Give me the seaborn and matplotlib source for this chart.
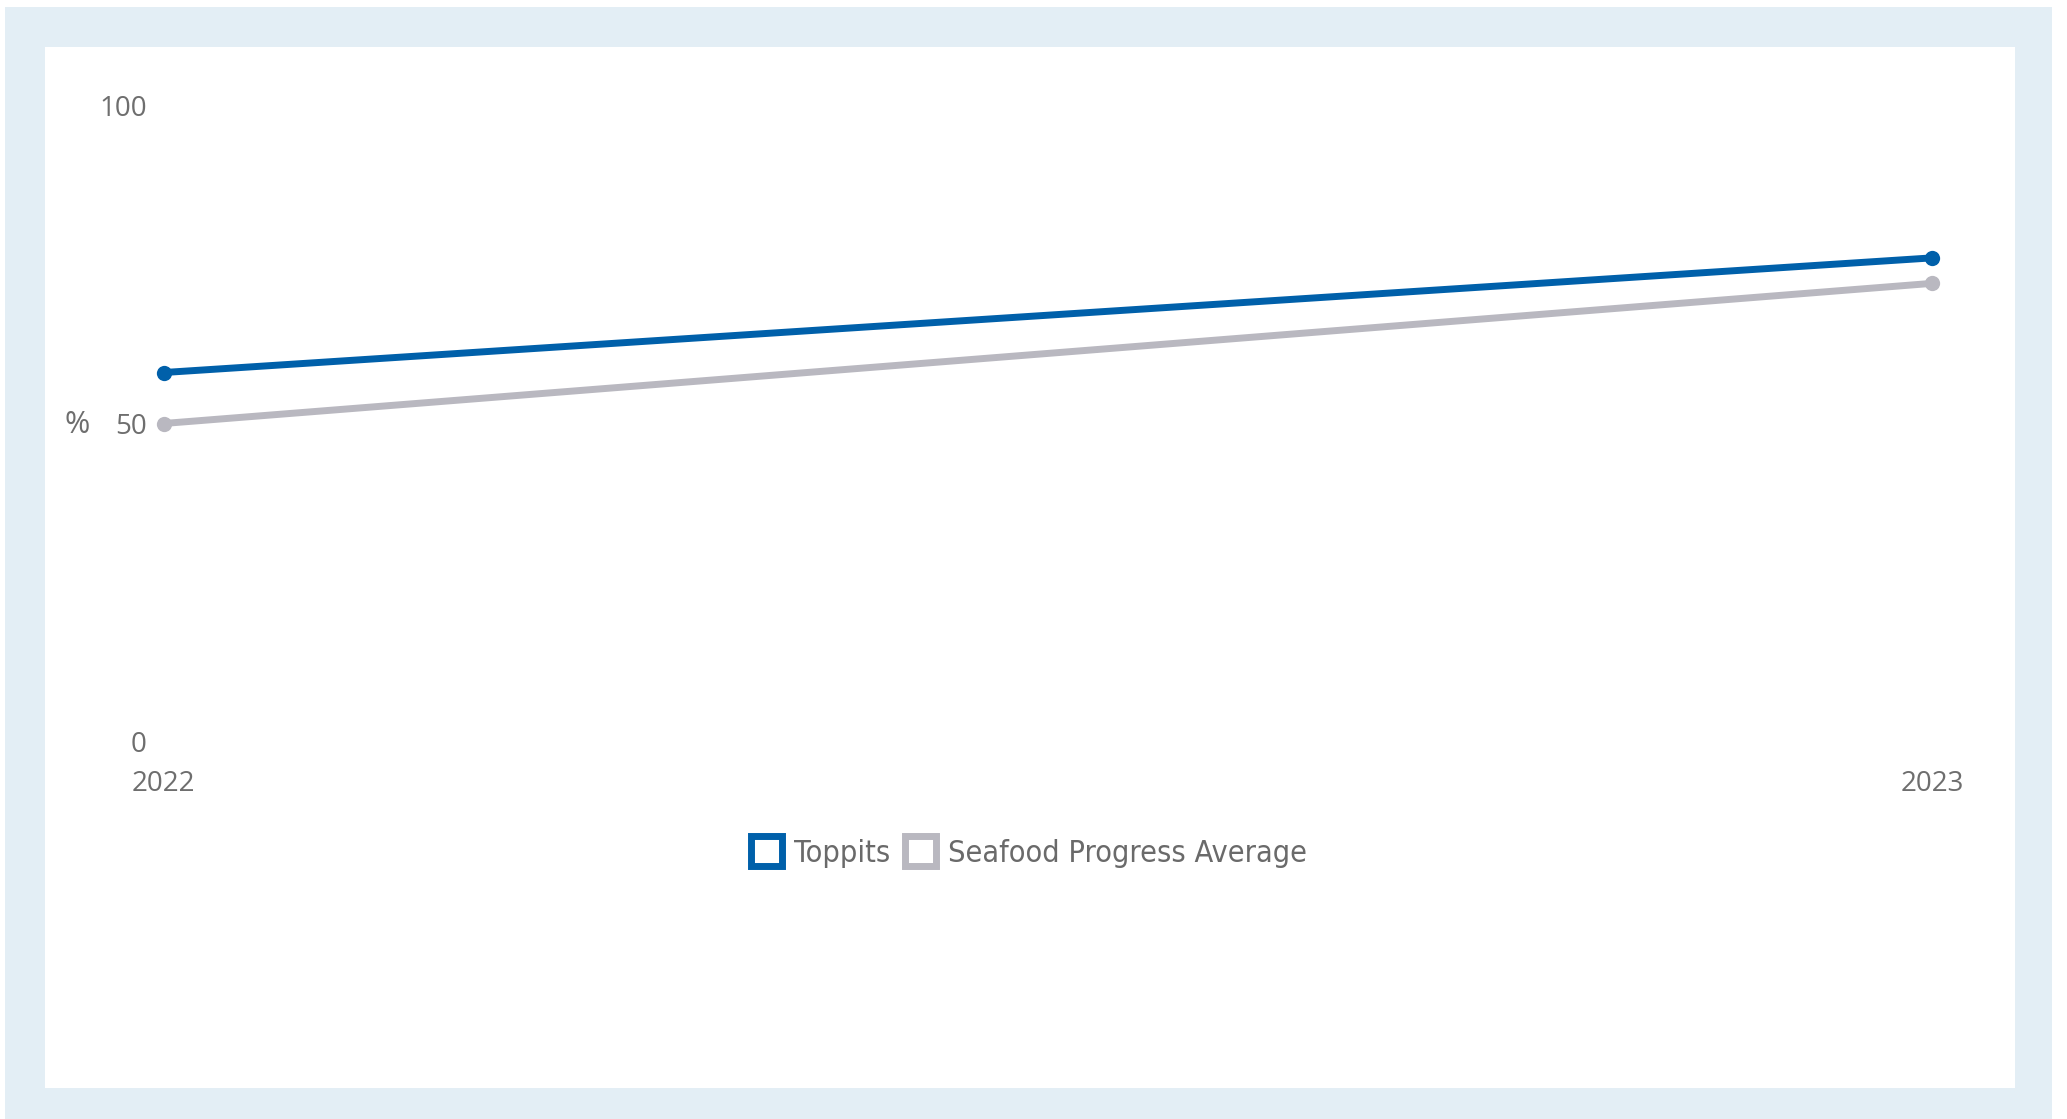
import matplotlib
matplotlib.use("Agg")
import matplotlib.pyplot as plt
from matplotlib.patches import Rectangle, Patch
import seaborn as sns
import pandas as pd

years = [2022, 2023]
toppits = [58, 76]
seafood_avg = [50, 72]
series_names = ["Toppits", "Seafood Progress Average"]
y_ticks = [0, 50, 100]

colors = {"Toppits": "#0060AA", "Seafood Progress Average": "#B9B8C0"}

df = pd.DataFrame({
    "year": years * 2,
    "value": toppits + seafood_avg,
    "series": [series_names[0]] * len(years) + [series_names[1]] * len(years),
})

sns.set_theme(style="white")
plt.rcParams["font.family"] = ["Open Sans", "DejaVu Sans"]

W, H = 2067, 1119
fig = plt.figure(figsize=(W / 100, H / 100), dpi=100, facecolor="white")

# light blue frame with white card inside
fig.patches.append(Rectangle((5 / W, 0), (2052 - 5) / W, 1 - 7 / H,
                             transform=fig.transFigure, facecolor="#E3EEF5",
                             edgecolor="none", zorder=-2))
fig.patches.append(Rectangle((45 / W, 1 - 1088 / H), (2015 - 45) / W, (1088 - 47) / H,
                             transform=fig.transFigure, facecolor="white",
                             edgecolor="none", zorder=-1))

left, right = 163.5 / W, 1932 / W
bottom, top = 1 - 742 / H, 1 - 105 / H
ax = fig.add_axes([left, bottom, right - left, top - bottom])
ax.set_facecolor("none")
ax.set_zorder(2)

sns.lineplot(data=df, x="year", y="value", hue="series", hue_order=series_names,
             palette=colors, marker="o", markersize=11, markeredgewidth=0,
             linewidth=5, legend=False, ax=ax)
for ln in ax.lines:
    ln.set_clip_on(False)
# draw blue series above the grey one
ax.lines[0].set_zorder(3)

ax.set_xlim(years[0], years[-1])
ax.set_ylim(0, 100)
ax.set_xticks(years)
ax.set_xticklabels([str(y) for y in years])
ax.set_yticks(y_ticks)
ax.set_yticklabels([str(t) for t in y_ticks])
ax.tick_params(axis="both", length=0, labelsize=20, labelcolor="#6E6E6E")
ax.tick_params(axis="y", pad=12)
ax.tick_params(axis="x", pad=20)
for s in ax.spines.values():
    s.set_visible(False)
ax.grid(False)
ax.set_xlabel("")
ax.set_ylabel("%", rotation=0, fontsize=22, color="#6E6E6E")
ax.yaxis.set_label_coords(-0.049, 0.497)
ax.yaxis.label.set_verticalalignment("center")

handles = [Patch(facecolor="white", edgecolor=colors[n], linewidth=5, label=n)
           for n in series_names]
leg = fig.legend(handles=handles, loc="center", bbox_to_anchor=(1029 / W, 1 - 852 / H),
                 ncol=2, frameon=False, handlelength=1.0, handleheight=1.1,
                 handletextpad=0.4, columnspacing=0.5,
                 prop={"family": "DejaVu Sans", "stretch": "condensed", "size": 22})
for t in leg.get_texts():
    t.set_color("#6A6A6A")

fig.savefig("out.png", dpi=100, facecolor=fig.get_facecolor())
